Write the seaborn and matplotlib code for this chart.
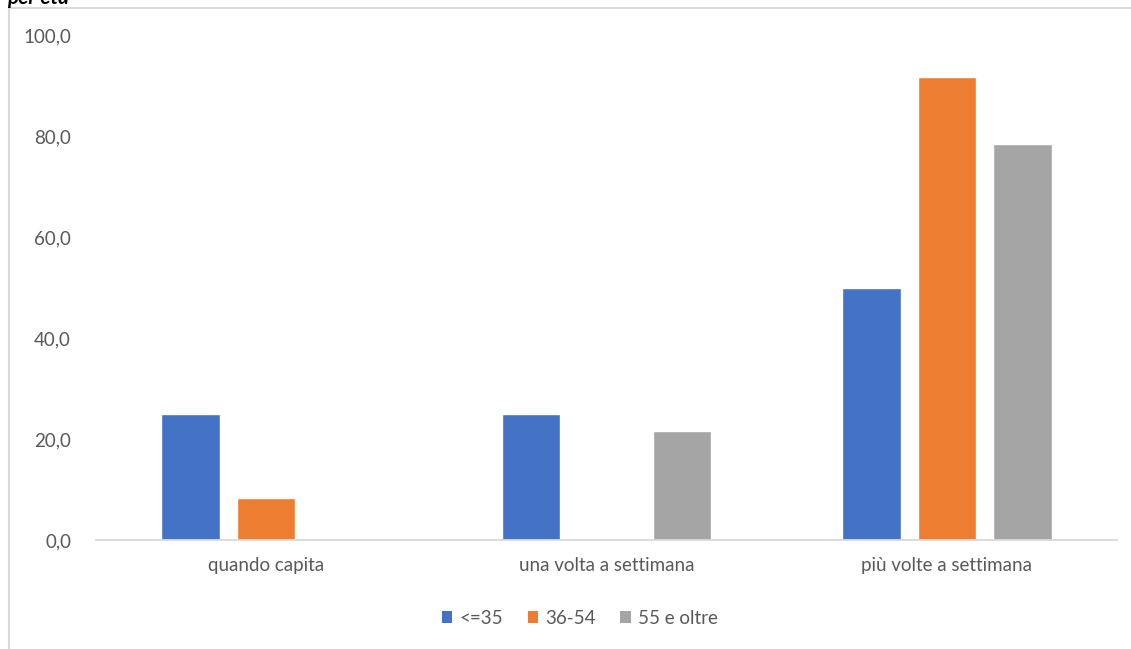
import matplotlib
matplotlib.use("Agg")
import matplotlib.pyplot as plt
import seaborn as sns
import pandas as pd
from matplotlib.patches import Rectangle, Patch

categories = ["quando capita", "una volta a settimana", "più volte a settimana"]
age_groups = ["<=35", "36-54", "55 e oltre"]
values_le35 = [25.0, 25.0, 50.0]
values_36_54 = [8.3, 0.0, 91.7]
values_55plus = [0.0, 21.6, 78.4]
colors = ["#4472C4", "#ED7D31", "#A5A5A5"]
yticks = [0, 20, 40, 60, 80, 100]

df = pd.DataFrame({
    "categoria": categories * 3,
    "età": [age_groups[0]] * 3 + [age_groups[1]] * 3 + [age_groups[2]] * 3,
    "valore": values_le35 + values_36_54 + values_55plus,
})

sns.set_theme(style="white")
plt.rcParams["font.family"] = ["Lato", "DejaVu Sans"]
text_color = "#595959"

W, H = 1131, 649
fig = plt.figure(figsize=(W / 100, H / 100), dpi=100)
ax = fig.add_axes([96 / W, 1 - 540 / H, (1117 - 96) / W, (540 - 35) / H])

sns.barplot(data=df, x="categoria", y="valore", hue="età", order=categories,
            hue_order=age_groups, palette=colors, width=0.665, gap=0.225,
            saturation=1, ax=ax, legend=False)

ax.set_ylim(0, 100)
ax.set_xlim(-0.5, 2.5)
ax.set_yticks(yticks)
ax.set_yticklabels([f"{v:.1f}".replace(".", ",") for v in yticks])
ax.set_xlabel("")
ax.set_ylabel("")
ax.tick_params(axis="both", length=0, colors=text_color, labelsize=13.5)
ax.tick_params(axis="y", pad=18)
ax.tick_params(axis="x", pad=12)
for s in ["left", "right", "top"]:
    ax.spines[s].set_visible(False)
ax.spines["bottom"].set_color("#d9d9d9")
ax.spines["bottom"].set_linewidth(1.3)
ax.grid(False)

# outer chart frame
fig.patches.append(Rectangle((9 / W, -0.05), 1.2, 1 - 8 / H + 0.05,
                             transform=fig.transFigure, fill=False,
                             edgecolor="#d9d9d9", linewidth=1.5))

# title line running above the frame
fig.text(7 / W, 1 - 4 / H, "per età", fontsize=15, style="italic",
         fontweight="bold", color="#000000", ha="left", va="baseline")

handles = [Patch(facecolor=c, edgecolor="none") for c in colors]
fig.legend(handles, age_groups, loc="center", bbox_to_anchor=(580 / W, 1 - 618 / H),
           ncol=3, frameon=False, fontsize=13.5, labelcolor=text_color,
           handlelength=0.55, handleheight=0.55, handletextpad=0.4,
           columnspacing=1.3)

fig.savefig("out.png", dpi=100)
